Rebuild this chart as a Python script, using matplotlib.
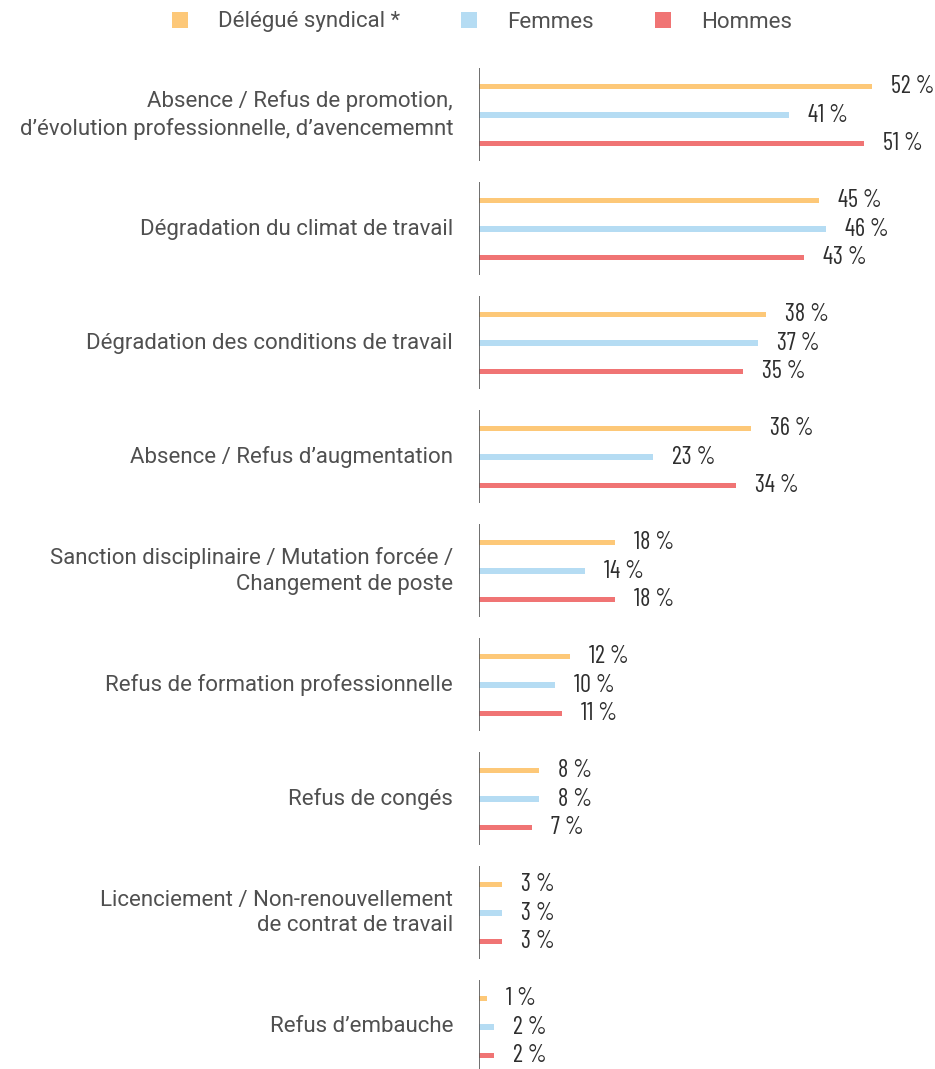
import matplotlib
matplotlib.use("Agg")
import matplotlib.pyplot as plt
from matplotlib.patches import Patch

categories = [
    "Absence / Refus de promotion,\nd’évolution professionnelle, d’avencememnt",
    "Dégradation du climat de travail",
    "Dégradation des conditions de travail",
    "Absence / Refus d’augmentation",
    "Sanction disciplinaire / Mutation forcée /\nChangement de poste",
    "Refus de formation professionnelle",
    "Refus de congés",
    "Licenciement / Non-renouvellement\nde contrat de travail",
    "Refus d’embauche",
]
series_names = ["Délégué syndical *", "Femmes", "Hommes"]
delegue = [52, 45, 38, 36, 18, 12, 8, 3, 1]
femmes = [41, 46, 37, 23, 14, 10, 8, 3, 2]
hommes = [51, 43, 35, 34, 18, 11, 7, 3, 2]
colors = ["#FDC878", "#B5DCF3", "#F07474"]

W, H = 935, 1069
fig = plt.figure(figsize=(W / 100, H / 100), dpi=100)
ax0_px = 479
ax = fig.add_axes([ax0_px / W, 0, (W - ax0_px) / W, 1])
px_per_pct = 7.55
ax.set_xlim(0, (W - ax0_px) / px_per_pct)
top_c, step = 115, 114
ax.set_ylim((H - top_c) / step, -top_c / step)
ax.axis("off")

cat_font = ["Roboto", "DejaVu Sans"]
val_font = ["Barlow Condensed", "DejaVu Sans"]

offsets = [-0.25, 0.0, 0.25]
for s, (vals, col) in enumerate(zip([delegue, femmes, hommes], colors)):
    ys = [i + offsets[s] for i in range(len(categories))]
    ax.barh(ys, vals, height=0.046, color=col, left=0)
    for y, v in zip(ys, vals):
        ax.annotate(f"{v} %", xy=(v, y), xytext=(19, 0), textcoords="offset pixels",
                    ha="left", va="center", fontsize=17.5, color="#2e2e2e",
                    family=val_font, fontweight="normal", annotation_clip=False)

for i, cat in enumerate(categories):
    ax.vlines(0, i - 0.41, i + 0.40, color="#555555", linewidth=1.2)
    ax.annotate(cat, xy=(0, i), xytext=(-26, 0), textcoords="offset pixels",
                ha="right", va="center", fontsize=16, color="#505050",
                family=cat_font, fontweight="normal", linespacing=1.3,
                annotation_clip=False)

handles = [Patch(facecolor=c, edgecolor="none") for c in colors]
fig.legend(handles, series_names, loc="center", bbox_to_anchor=(482 / W, 1 - 22 / H),
           ncol=3, frameon=False, handlelength=0.72, handleheight=0.72,
           handletextpad=1.35, columnspacing=2.75,
           prop={"family": cat_font, "size": 16, "weight": "normal"}, labelcolor="#505050")

fig.savefig("out.png", dpi=100)
